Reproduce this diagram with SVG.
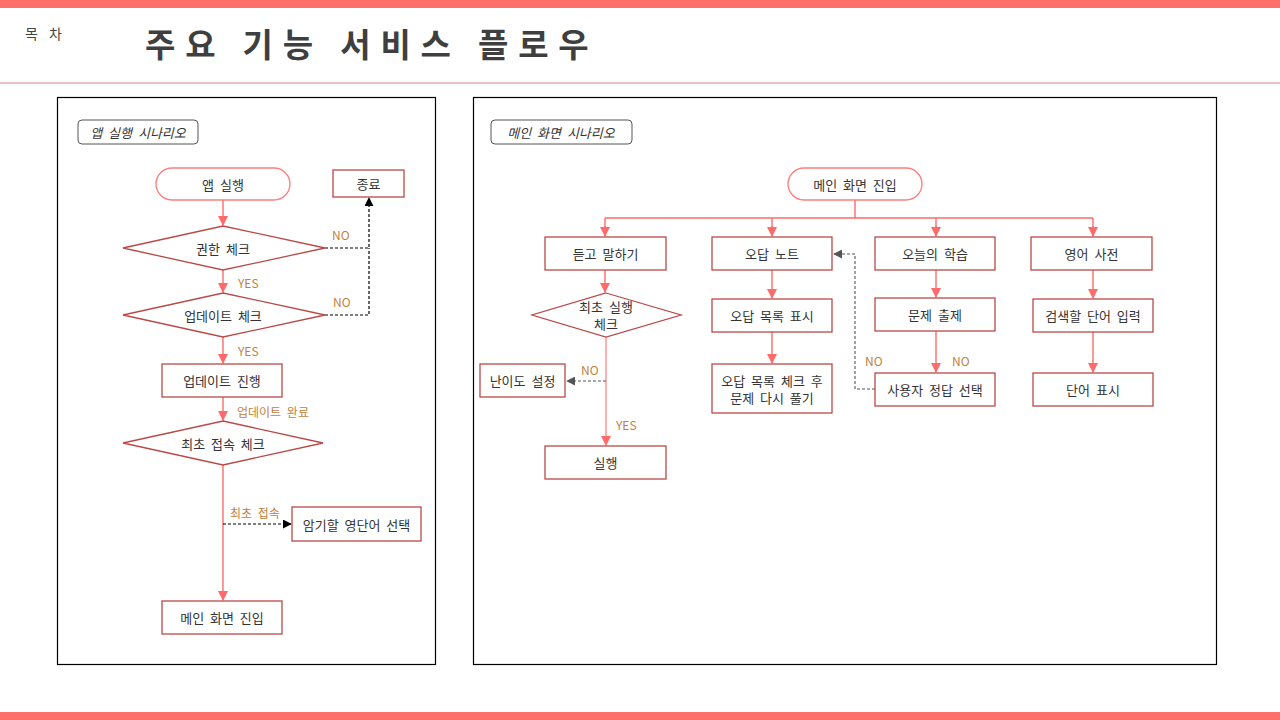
<svg xmlns="http://www.w3.org/2000/svg" width="1280" height="720" viewBox="0 0 1280 720">
<style>
text{font-family:"Noto Sans CJK KR","Noto Sans",sans-serif;}
.t{font-size:13px;fill:#333;text-anchor:middle;dominant-baseline:central;word-spacing:3px;}
.lb{font-size:12px;fill:#BF7F3F;dominant-baseline:central;word-spacing:3px;}
.box{fill:#fff;stroke:#B94A48;stroke-width:1.3;}
.st{fill:#fff;stroke:#FF7C7C;stroke-width:1.3;}
.ln{fill:none;stroke:#FF6B6B;stroke-width:1.4;}
.dk{fill:none;stroke:#000;stroke-width:1.2;stroke-dasharray:3,2;}
.dg{fill:none;stroke:#555;stroke-width:1.1;stroke-dasharray:3,2;}
.panel{fill:#fff;stroke:#000;stroke-width:1.2;}
.tag{fill:#fff;stroke:#555;stroke-width:1;}
.tagt{font-size:13px;fill:#333;font-style:italic;text-anchor:middle;dominant-baseline:central;word-spacing:3px;}
</style>
<defs>
<marker id="ar" viewBox="0 0 10 10" refX="9" refY="5" markerWidth="10" markerHeight="10" markerUnits="userSpaceOnUse" orient="auto"><path d="M0,0L10,5L0,10z" fill="#FF6B6B"/></marker>
<marker id="ak" viewBox="0 0 10 10" refX="9" refY="5" markerWidth="9" markerHeight="9" markerUnits="userSpaceOnUse" orient="auto"><path d="M0,0L10,5L0,10z" fill="#000"/></marker>
<marker id="ag" viewBox="0 0 10 10" refX="9" refY="5" markerWidth="9" markerHeight="9" markerUnits="userSpaceOnUse" orient="auto"><path d="M0,0L10,5L0,10z" fill="#555"/></marker>
</defs>
<rect width="1280" height="720" fill="#fff"/>
<rect x="0" y="0" width="1280" height="8" fill="#FF6F6B"/>
<rect x="0" y="712" width="1280" height="8" fill="#FF6F6B"/>
<line x1="0" y1="83" x2="1280" y2="83" stroke="#D98080" stroke-width="1"/>
<text x="25" y="33" style="font-size:14px;fill:#444;dominant-baseline:central;letter-spacing:4px">목 차</text>
<text x="145" y="43" style="font-size:33px;font-weight:bold;fill:#3F3F3F;dominant-baseline:central;letter-spacing:9.8px">주요 기능 서비스 플로우</text>

<rect class="panel" x="57.5" y="97.5" width="378" height="567"/>
<rect class="panel" x="473.5" y="97.5" width="743" height="567"/>
<g id="tag-left"><rect class="tag" x="78" y="120" width="120" height="24" rx="4"/><text class="tagt" x="138" y="132">앱 실행 시나리오</text></g>
<g id="tag-right"><rect class="tag" x="491" y="120" width="141" height="24" rx="4"/><text class="tagt" x="561" y="132">메인 화면 시나리오</text></g>

<g id="connectors">
<path class="ln" d="M223,200V225" marker-end="url(#ar)"/>
<path class="ln" d="M223,270V292" marker-end="url(#ar)"/>
<path class="ln" d="M223,337V363" marker-end="url(#ar)"/>
<path class="ln" d="M223,397V420" marker-end="url(#ar)"/>
<path class="ln" d="M223,465V600" marker-end="url(#ar)"/>
<path class="dk" d="M325,248H369V198" marker-end="url(#ak)"/>
<path class="dk" d="M325,315H369V248"/>
<path class="dk" d="M223,524H291" marker-end="url(#ak)"/>
<path class="ln" d="M855,200V218M605,218H1093M605,218V236M772,218V236M936,218V236M1093,218V236" />
<path class="ln" d="M605,226V236" marker-end="url(#ar)"/>
<path class="ln" d="M772,226V236" marker-end="url(#ar)"/>
<path class="ln" d="M936,226V236" marker-end="url(#ar)"/>
<path class="ln" d="M1093,226V236" marker-end="url(#ar)"/>
<path class="ln" d="M605,270V292" marker-end="url(#ar)"/>
<path class="ln" d="M606,337V445" style="stroke:#FF9090" marker-end="url(#ar)"/>
<path class="dg" d="M606,381H567" marker-end="url(#ag)"/>
<path class="ln" d="M772,270V298" marker-end="url(#ar)"/>
<path class="ln" d="M772,332V363" marker-end="url(#ar)"/>
<path class="ln" d="M936,270V297" marker-end="url(#ar)"/>
<path class="ln" d="M936,331V372" marker-end="url(#ar)"/>
<path class="dg" d="M875,389H855V254H834" marker-end="url(#ag)"/>
<path class="ln" d="M1093,270V298" marker-end="url(#ar)"/>
<path class="ln" d="M1093,332V372" marker-end="url(#ar)"/>
<text class="lb" x="332" y="234">NO</text>
<text class="lb" x="333" y="301">NO</text>
<text class="lb" x="238" y="282">YES</text>
<text class="lb" x="238" y="350">YES</text>
<text class="lb" x="237" y="411">업데이트 완료</text>
<text class="lb" x="230" y="512">최초 접속</text>
<text class="lb" x="581" y="369">NO</text>
<text class="lb" x="616" y="424">YES</text>
<text class="lb" x="865" y="360">NO</text>
<text class="lb" x="952" y="360">NO</text>
</g>

<g id="n-app"><rect class="st" x="156" y="168" width="134" height="32" rx="16"/><text class="t" x="223" y="184">앱 실행</text></g>
<g id="n-end"><rect class="box" x="333" y="170" width="71" height="27"/><text class="t" x="368.5" y="183.5">종료</text></g>
<g id="n-perm"><path class="box" d="M223,226L325,248L223,270L123,248Z"/><text class="t" x="223" y="248">권한 체크</text></g>
<g id="n-upd"><path class="box" d="M223,293L325,315L223,337L123,315Z"/><text class="t" x="223" y="315">업데이트 체크</text></g>
<g id="n-updgo"><rect class="box" x="162" y="364" width="120" height="33"/><text class="t" x="222" y="380.5">업데이트 진행</text></g>
<g id="n-first"><path class="box" d="M223,421L323,443L223,465L123,443Z"/><text class="t" x="223" y="443">최초 접속 체크</text></g>
<g id="n-word"><rect class="box" x="292" y="507" width="129" height="34"/><text class="t" x="356.5" y="524">암기할 영단어 선택</text></g>
<g id="n-main1"><rect class="box" x="162" y="601" width="120" height="33"/><text class="t" x="222" y="617.5">메인 화면 진입</text></g>

<g id="m-main"><rect class="st" x="788" y="168" width="134" height="32" rx="16"/><text class="t" x="855" y="184">메인 화면 진입</text></g>
<g id="m-listen"><rect class="box" x="545" y="237" width="121" height="33"/><text class="t" x="605.5" y="253.5">듣고 말하기</text></g>
<g id="m-wrong"><rect class="box" x="712" y="237" width="120" height="33"/><text class="t" x="772" y="253.5">오답 노트</text></g>
<g id="m-today"><rect class="box" x="875" y="237" width="120" height="33"/><text class="t" x="935" y="253.5">오늘의 학습</text></g>
<g id="m-dict"><rect class="box" x="1031" y="237" width="121" height="33"/><text class="t" x="1091.5" y="253.5">영어 사전</text></g>
<g id="m-firstrun"><path class="box" d="M606,293L681,315L606,337L532,315Z"/><text class="t" x="606" y="306">최초 실행</text><text class="t" x="606" y="323">체크</text></g>
<g id="m-level"><rect class="box" x="480" y="364" width="85" height="33"/><text class="t" x="522.5" y="380.5">난이도 설정</text></g>
<g id="m-run"><rect class="box" x="545" y="446" width="121" height="33"/><text class="t" x="605.5" y="462.5">실행</text></g>
<g id="m-wlist"><rect class="box" x="712" y="299" width="120" height="33"/><text class="t" x="772" y="315.5">오답 목록 표시</text></g>
<g id="m-wretry"><rect class="box" x="712" y="364" width="120" height="49"/><text class="t" x="772" y="380">오답 목록 체크 후</text><text class="t" x="772" y="397">문제 다시 풀기</text></g>
<g id="m-quiz"><rect class="box" x="875" y="298" width="120" height="33"/><text class="t" x="935" y="314.5">문제 출제</text></g>
<g id="m-answer"><rect class="box" x="875" y="373" width="120" height="33"/><text class="t" x="935" y="389.5">사용자 정답 선택</text></g>
<g id="m-search"><rect class="box" x="1033" y="299" width="120" height="33"/><text class="t" x="1093" y="315.5">검색할 단어 입력</text></g>
<g id="m-show"><rect class="box" x="1033" y="373" width="120" height="33"/><text class="t" x="1093" y="389.5">단어 표시</text></g>
</svg>
